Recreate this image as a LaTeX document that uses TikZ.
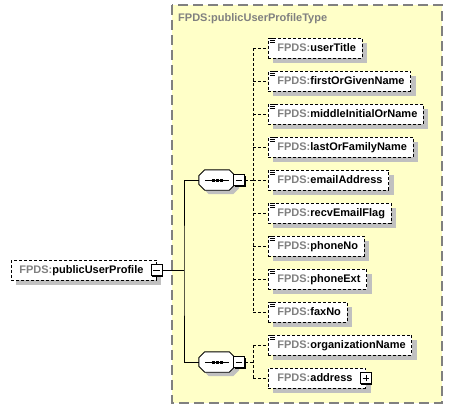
\documentclass[tikz,border=0pt]{standalone}
\usepackage{fontspec}
\setmainfont{Liberation Sans}
\usetikzlibrary{shadows}
\definecolor{fpgray}{RGB}{128,128,128}
\definecolor{shadowgray}{RGB}{192,192,192}
\definecolor{typefill}{RGB}{255,255,200}
\definecolor{typeborder}{RGB}{128,128,128}
\newcommand\elfont{\fontsize{11}{13}\selectfont\bfseries}
\newcommand\fp{\textcolor{fpgray}{FPDS:}}
\begin{document}
\begin{tikzpicture}[x=1pt,y=-1pt,
  elem/.style={draw, dash pattern=on 3pt off 2pt, line width=0.8pt, fill=white,
    inner xsep=6pt, inner ysep=0pt, minimum height=20pt, text height=8pt, text depth=2pt,
    anchor=west, font=\elfont,
    general shadow={fill=shadowgray, shadow xshift=5pt, shadow yshift=-5pt}},
  pmbox/.style={draw, fill=white, line width=0.9pt, minimum size=11pt, inner sep=0pt,
    general shadow={fill=black, shadow xshift=1pt, shadow yshift=-1pt}},
  conn/.style={line width=0.8pt, dash pattern=on 3pt off 2pt},
  link/.style={line width=0.9pt},
  seqbox/.style={minimum width=36pt, minimum height=20pt, inner sep=0pt},
  typebox/.style={draw=typeborder, fill=typefill, line width=1.2pt, dash pattern=on 10pt off 5pt},
]
\useasboundingbox (0,0) rectangle (453,410);

% complex type container
\draw[typebox] (172,5) rectangle (442,403);
\node[anchor=west, font=\elfont, text=fpgray, inner sep=0pt] (title) at (178,19) {FPDS:publicUserProfileType};

% top-level element
\node[elem] (pup) at (11,270) {\hspace*{2pt}\fp publicUserProfile\hspace*{7pt}};
\node[pmbox] (pupm) at (pup.east) {};
\draw[line width=0.9pt] ([xshift=2.5pt]pupm.west) -- ([xshift=-2.5pt]pupm.east);

% sequence compositors
\node[seqbox] (seq1) at (217,180) {};
\node[seqbox] (seq2) at (217,362) {};
\foreach \s in {seq1,seq2} {
  \fill[shadowgray, transform canvas={shift={(4pt,-4pt)}}]
    ([xshift=6pt]\s.north west) -- ([xshift=-6pt]\s.north east) -- ([yshift=-6pt]\s.north east)
    -- ([yshift=6pt]\s.south east) -- ([xshift=-6pt]\s.south east) -- ([xshift=6pt]\s.south west)
    -- ([yshift=6pt]\s.south west) -- ([yshift=-6pt]\s.north west) -- cycle;
  \draw[line width=0.9pt, fill=white]
    ([xshift=6pt]\s.north west) -- ([xshift=-6pt]\s.north east) -- ([yshift=-6pt]\s.north east)
    -- ([yshift=6pt]\s.south east) -- ([xshift=-6pt]\s.south east) -- ([xshift=6pt]\s.south west)
    -- ([yshift=6pt]\s.south west) -- ([yshift=-6pt]\s.north west) -- cycle;
  \draw[line width=0.9pt] ([xshift=-12pt]\s.center) -- ([xshift=12pt]\s.center);
  \foreach \dx in {-5.5,-1.5,2.5}
    \fill ([xshift=\dx pt, yshift=1.5pt]\s.center) rectangle ++(3,3);
}
\node[pmbox] (m1) at (239,180) {};
\node[pmbox] (m2) at (239,362) {};
\foreach \m in {m1,m2}
  \draw[line width=0.9pt] ([xshift=2.5pt]\m.west) -- ([xshift=-2.5pt]\m.east);

% child elements
\foreach \n/\t/\y in {ut/userTitle/48, fg/firstOrGivenName/81, mi/middleInitialOrName/114,
    lf/lastOrFamilyName/147, ea/emailAddress/180, rf/recvEmailFlag/213, pn/phoneNo/246,
    pe/phoneExt/279, fx/faxNo/312, on/organizationName/345}
  \node[elem] (\n) at (268,\y) {\hspace*{3pt}\fp \t};
\node[elem] (ad) at (268,378) {\hspace*{3pt}\fp address\hspace*{7pt}};
\node[pmbox] (adp) at (ad.east) {};
\draw[line width=0.9pt] ([xshift=2.5pt]adp.west) -- ([xshift=-2.5pt]adp.east);
\draw[line width=0.9pt] ([yshift=2.5pt]adp.south) -- ([yshift=-2.5pt]adp.north);

% simple-type icons
\foreach \n in {ut,fg,mi,lf,ea,rf,pn,pe,fx,on}
  \foreach \dy in {0.8,2.8,4.8}
    \draw[line width=0.7pt] ([xshift=1.5pt, yshift=-\dy pt]\n.north west) -- ++(5.5,0);

% connectors
\coordinate (j) at (184,270);
\draw[link] (pupm.east) -- (j);
\draw[link] (seq1.west) -| (j) |- (seq2.west);

\coordinate (d1) at (253,180);
\coordinate (d2) at (253,362);
\draw[conn] (m1.east) -- (d1);
\draw[conn] (d1 |- ut.west) -- (d1 |- fx.west);
\foreach \n in {ut,fg,mi,lf,ea,rf,pn,pe,fx}
  \draw[conn] (d1 |- \n.west) -- (\n.west);
\draw[conn] (m2.east) -- (d2);
\draw[conn] (d2 |- on.west) -- (d2 |- ad.west);
\foreach \n in {on,ad}
  \draw[conn] (d2 |- \n.west) -- (\n.west);
\end{tikzpicture}
\end{document}
